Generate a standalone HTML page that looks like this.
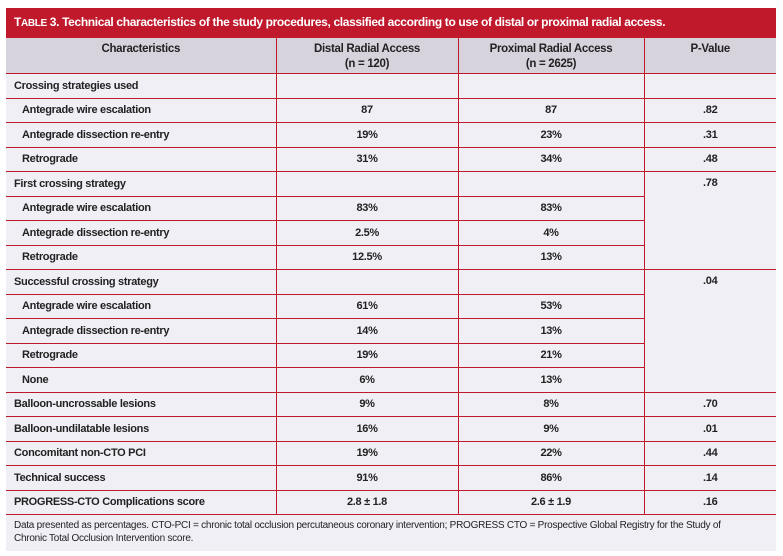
<!DOCTYPE html>
<html><head><meta charset="utf-8"><style>
body{margin:0;background:#fff;width:783px;height:556px;overflow:hidden;font-family:"Liberation Sans",sans-serif;}
.wrap{position:absolute;left:6px;top:8px;width:770px;}
.title{background:#c0192c;color:#fff;height:29px;line-height:29px;font-weight:bold;font-size:12px;padding-left:8px;letter-spacing:-0.35px;}
.title .sc{font-size:10px}
table{border-collapse:collapse;width:770px;table-layout:fixed;background:#f0eff5;}
td,th{border:1px solid #c0192c;font-size:11px;font-weight:bold;color:#222;padding:0;letter-spacing:-0.3px;height:23.5px;}
th{background:#d7d3dd;height:31px;vertical-align:top;padding-top:4px;line-height:15px;font-size:11.5px}
table tr td:first-child,table tr th:first-child{border-left:none}
table tr td:last-child,table tr th:last-child{border-right:none}
td{text-align:center}
td.l{text-align:left;padding-left:8px}
td.s{text-align:left;padding-left:16px}
td.top{vertical-align:top;padding-top:5px}
.foot{background:#f0eff5;height:36px;font-size:10px;color:#222;padding:4px 0 0 8px;line-height:13px;letter-spacing:-0.25px;box-sizing:border-box;}
</style></head><body><div class="wrap">
<div class="title"><span style="font-size:12px">T</span><span class="sc">ABLE</span> 3. Technical characteristics of the study procedures, classified according to use of distal or proximal radial access.</div>
<table>
<colgroup><col style="width:270px"><col style="width:182px"><col style="width:186px"><col style="width:132px"></colgroup>
<tr><th>Characteristics</th><th>Distal Radial Access<br>(n = 120)</th><th>Proximal Radial Access<br>(n = 2625)</th><th>P-Value</th></tr>
<tr><td class="l">Crossing strategies used</td><td></td><td></td><td></td></tr>
<tr><td class="s">Antegrade wire escalation</td><td>87</td><td>87</td><td>.82</td></tr>
<tr><td class="s">Antegrade dissection re-entry</td><td>19%</td><td>23%</td><td>.31</td></tr>
<tr><td class="s">Retrograde</td><td>31%</td><td>34%</td><td>.48</td></tr>
<tr><td class="l">First crossing strategy</td><td></td><td></td><td rowspan="4" class="top">.78</td></tr>
<tr><td class="s">Antegrade wire escalation</td><td>83%</td><td>83%</td></tr>
<tr><td class="s">Antegrade dissection re-entry</td><td>2.5%</td><td>4%</td></tr>
<tr><td class="s">Retrograde</td><td>12.5%</td><td>13%</td></tr>
<tr><td class="l">Successful crossing strategy</td><td></td><td></td><td rowspan="5" class="top">.04</td></tr>
<tr><td class="s">Antegrade wire escalation</td><td>61%</td><td>53%</td></tr>
<tr><td class="s">Antegrade dissection re-entry</td><td>14%</td><td>13%</td></tr>
<tr><td class="s">Retrograde</td><td>19%</td><td>21%</td></tr>
<tr><td class="s">None</td><td>6%</td><td>13%</td></tr>
<tr><td class="l">Balloon-uncrossable lesions</td><td>9%</td><td>8%</td><td>.70</td></tr>
<tr><td class="l">Balloon-undilatable lesions</td><td>16%</td><td>9%</td><td>.01</td></tr>
<tr><td class="l">Concomitant non-CTO PCI</td><td>19%</td><td>22%</td><td>.44</td></tr>
<tr><td class="l">Technical success</td><td>91%</td><td>86%</td><td>.14</td></tr>
<tr><td class="l">PROGRESS-CTO Complications score</td><td>2.8 ± 1.8</td><td>2.6 ± 1.9</td><td>.16</td></tr>
</table>
<div class="foot">Data presented as percentages. CTO-PCI = chronic total occlusion percutaneous coronary intervention; PROGRESS CTO = Prospective Global Registry for the Study of<br>Chronic Total Occlusion Intervention score.</div>
</div></body></html>
